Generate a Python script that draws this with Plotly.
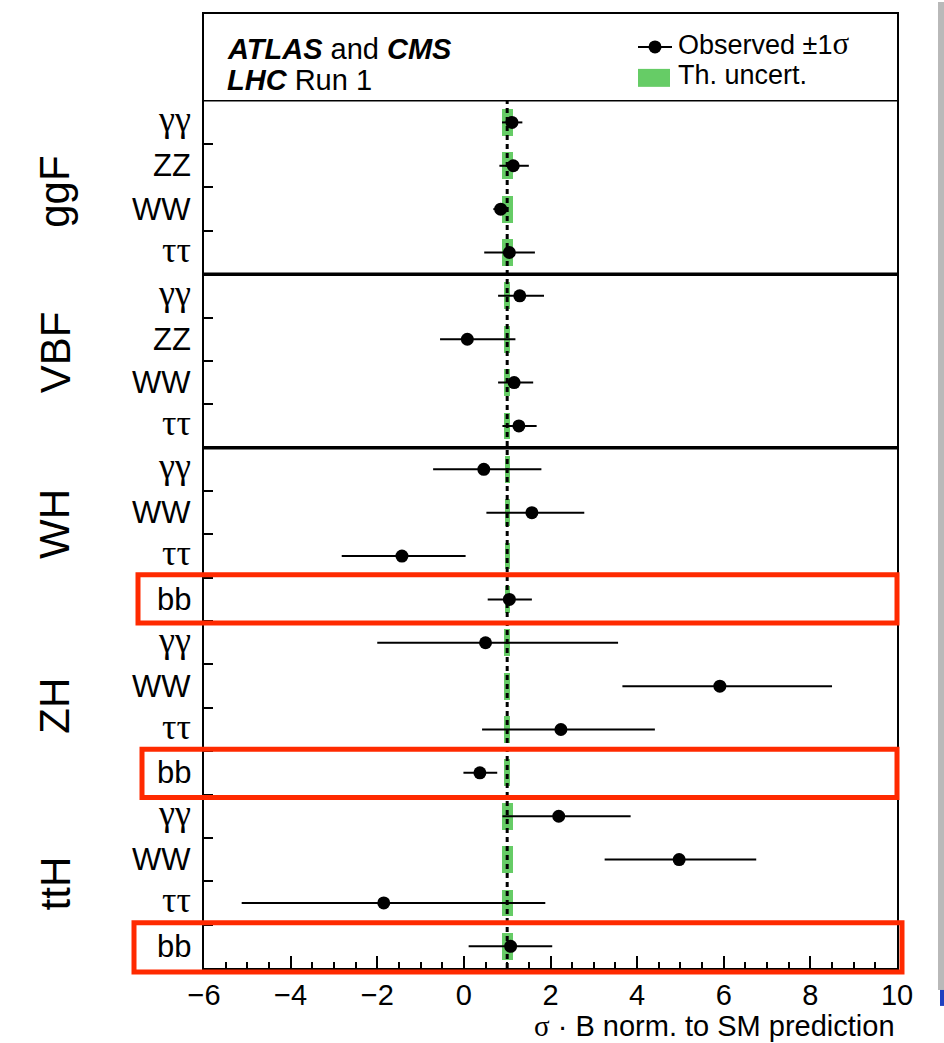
import plotly.graph_objects as go

# ---- data -------------------------------------------------------------
production = ["ggF", "VBF", "WH", "ZH", "ttH"]
decays = [
    ["γγ", "ZZ", "WW", "ττ"],
    ["γγ", "ZZ", "WW", "ττ"],
    ["γγ", "WW", "ττ", "bb"],
    ["γγ", "WW", "ττ", "bb"],
    ["γγ", "WW", "ττ", "bb"],
]
# observed sigma*B normalised to the SM, with asymmetric 1 sigma errors
mu = [1.11, 1.14, 0.85, 1.05,
      1.29, 0.08, 1.16, 1.27,
      0.46, 1.57, -1.43, 1.05,
      0.50, 5.91, 2.24, 0.37,
      2.19, 4.97, -1.85, 1.08]
err_up = [0.24, 0.36, 0.17, 0.59,
          0.56, 1.11, 0.44, 0.41,
          1.33, 1.21, 1.47, 0.52,
          3.06, 2.59, 2.17, 0.40,
          1.66, 1.78, 3.73, 0.96]
err_down = [0.23, 0.32, 0.17, 0.58,
            0.50, 0.63, 0.37, 0.38,
            1.17, 1.05, 1.39, 0.50,
            2.50, 2.25, 1.82, 0.38,
            1.30, 1.72, 3.28, 0.97]
# theory uncertainty on the SM prediction (half width)
th_unc = [0.13, 0.13, 0.13, 0.13,
          0.065, 0.065, 0.065, 0.065,
          0.06, 0.06, 0.06, 0.06,
          0.075, 0.075, 0.075, 0.075,
          0.13, 0.13, 0.13, 0.13]
sm_value = 1.0
x_ticks = [-6, -4, -2, 0, 2, 4, 6, 8, 10]
highlighted = [("WH", "bb"), ("ZH", "bb"), ("ttH", "bb")]

# ---- geometry -----------------------------------------------------------
W, H = 944, 1043
ML, MR, MT, MB = 204, 47, 12, 75
PW, PH = W - ML - MR, H - MT - MB
N_ROWS = sum(len(d) for d in decays)   # 20 measurement rows
Y_TOP = N_ROWS + 2                      # two extra rows for the header box

labels = [d for grp in decays for d in grp]
prods = [p for p, grp in zip(production, decays) for _ in grp]
row_y = [N_ROWS - 0.5 - k for k in range(N_ROWS)]


def px(xp):
    return (xp - ML) / PW


def py(yp):
    return (H - MB - yp) / PH


SANS = "Liberation Sans"
SERIF = "Liberation Serif"
GREEN = "#66cc66"
RED = "#ff2a00"

fig = go.Figure()

# theory uncertainty bands around the SM expectation
fig.add_trace(go.Bar(
    y=row_y,
    x=[2 * t for t in th_unc],
    base=[sm_value - t for t in th_unc],
    orientation="h",
    width=0.62,
    marker=dict(color=GREEN, line=dict(width=0)),
    showlegend=False,
    hoverinfo="skip",
))

# SM reference line
fig.add_trace(go.Scatter(
    x=[sm_value, sm_value], y=[0, N_ROWS],
    mode="lines",
    line=dict(color="black", width=3, dash="5px,4px"),
    showlegend=False, hoverinfo="skip",
))

# observed values
fig.add_trace(go.Scatter(
    x=mu, y=row_y,
    mode="markers",
    marker=dict(color="black", size=13),
    error_x=dict(type="data", symmetric=False, array=err_up,
                 arrayminus=err_down, color="black", thickness=2, width=0),
    showlegend=False,
))

shapes = []
# header separator and thick group separators
shapes.append(dict(type="line", xref="paper", yref="y", x0=0, x1=1,
                   y0=N_ROWS, y1=N_ROWS, line=dict(color="black", width=1.5)))
start = 0
for grp in decays[:2]:
    start += len(grp)
    yb = N_ROWS - start
    shapes.append(dict(type="line", xref="paper", yref="y", x0=0, x1=1,
                       y0=yb, y1=yb, line=dict(color="black", width=3.5)))

# highlight boxes around the bb rows
box_pad = {"WH": (138, 897, 3, 2), "ZH": (142, 897, 2, 3), "ttH": (134, 902, 2, 4)}
for p, d in highlighted:
    k = [i for i in range(N_ROWS) if prods[i] == p and labels[i] == d][0]
    y_hi = row_y[k] + 0.5
    y_lo = row_y[k] - 0.5
    x0p, x1p, ptop, pbot = box_pad[p]
    shapes.append(dict(
        type="rect", xref="paper", yref="paper",
        x0=px(x0p), x1=px(x1p),
        y0=y_lo / Y_TOP - pbot / PH, y1=y_hi / Y_TOP + ptop / PH,
        line=dict(color=RED, width=5), fillcolor="rgba(0,0,0,0)",
    ))

# legend swatches
shapes.append(dict(type="line", xref="paper", yref="paper",
                   x0=px(638), x1=px(672), y0=py(45), y1=py(45),
                   line=dict(color="black", width=2)))
shapes.append(dict(type="circle", xref="paper", yref="paper",
                   x0=px(648.5), x1=px(661.5), y0=py(51.5), y1=py(38.5),
                   fillcolor="black", line=dict(color="black", width=0)))
shapes.append(dict(type="rect", xref="paper", yref="paper",
                   x0=px(638), x1=px(670), y0=py(85), y1=py(67),
                   fillcolor=GREEN, line=dict(width=0)))

# window edge on the right
shapes.append(dict(type="rect", xref="paper", yref="paper",
                   x0=px(938), x1=px(945), y0=py(990), y1=py(0),
                   fillcolor="#b9b9b9", line=dict(width=0), layer="below"))
shapes.append(dict(type="rect", xref="paper", yref="paper",
                   x0=px(940), x1=px(945), y0=py(1006), y1=py(990),
                   fillcolor="#2040c0", line=dict(width=0), layer="below"))

annotations = []
# decay channel labels
for yv, lab in zip(row_y, labels):
    greek = lab in ("γγ", "ττ")
    annotations.append(dict(
        x=0, xref="paper", y=yv, yref="y", xanchor="right", yanchor="middle",
        xshift=-11, yshift=(3 if greek else 0),
        text=lab, showarrow=False,
        font=dict(family=SERIF if greek else SANS, size=36 if greek else 31,
                  color="black"),
    ))

# production mode labels
group_label_y = [17.90, 14.20, 10.24, 6.05, 1.95]
for p, yv in zip(production, group_label_y):
    annotations.append(dict(
        x=px(55), xref="paper", y=yv, yref="y", xanchor="center",
        yanchor="middle", text=p, textangle=-90, showarrow=False,
        font=dict(family=SANS, size=42, color="black"),
    ))

# header text
annotations.append(dict(
    x=px(225), xref="paper", y=py(47), yref="paper", xanchor="left",
    yanchor="middle", showarrow=False,
    text="<b><i>ATLAS</i></b> and <b><i>CMS</i></b>",
    font=dict(family=SANS, size=29, color="black"),
))
annotations.append(dict(
    x=px(225), xref="paper", y=py(78), yref="paper", xanchor="left",
    yanchor="middle", showarrow=False,
    text="<b><i>LHC</i></b> Run 1",
    font=dict(family=SANS, size=29, color="black"),
))
annotations.append(dict(
    x=px(676), xref="paper", y=py(42), yref="paper", xanchor="left",
    yanchor="middle", showarrow=False,
    text="Observed ±1<span style=\"font-family:'Liberation Serif';font-size:31px\">σ</span>",
    font=dict(family=SANS, size=27, color="black"),
))
annotations.append(dict(
    x=px(676), xref="paper", y=py(73), yref="paper", xanchor="left",
    yanchor="middle", showarrow=False,
    text="Th. uncert.",
    font=dict(family=SANS, size=27, color="black"),
))

# x-axis title
annotations.append(dict(
    x=1, xref="paper", y=py(1026), yref="paper", xanchor="right",
    yanchor="middle", showarrow=False,
    text="<span style=\"font-family:'Liberation Serif'\">σ</span> · B norm. to SM prediction",
    font=dict(family=SANS, size=29, color="black"),
))

fig.update_layout(
    width=W, height=H,
    margin=dict(l=ML, r=MR, t=MT, b=MB, pad=0),
    paper_bgcolor="white", plot_bgcolor="white",
    shapes=shapes, annotations=annotations,
    showlegend=False,
    bargap=0,
    xaxis=dict(
        range=[-6, 10], tickvals=x_ticks,
        ticktext=[("−" + str(-v)) if v < 0 else str(v) for v in x_ticks],
        ticks="inside", ticklen=12, tickwidth=1.5, tickcolor="black",
        minor=dict(ticks="inside", ticklen=6, tickwidth=1.5,
                   tickcolor="black", dtick=0.5, tick0=0, showgrid=False),
        showgrid=False, zeroline=False,
        showline=True, linecolor="black", linewidth=1.5, mirror=True,
        tickfont=dict(family=SANS, size=29, color="black"),
        fixedrange=True,
    ),
    yaxis=dict(
        range=[0, Y_TOP], tickvals=list(range(1, N_ROWS)),
        ticks="inside", ticklen=9, tickwidth=1.5, tickcolor="black",
        showticklabels=False, showgrid=False, zeroline=False,
        showline=True, linecolor="black", linewidth=1.5, mirror=True,
        fixedrange=True,
    ),
)

fig.write_html("out.html")
